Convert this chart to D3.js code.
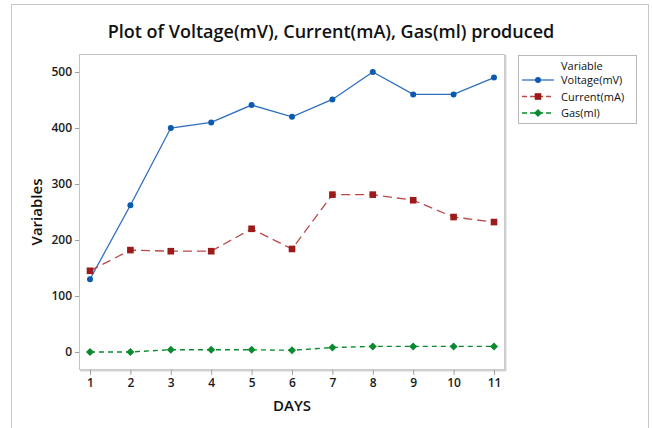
<!DOCTYPE html>
<html>
<head>
<meta charset="utf-8">
<script src="https://cdn.jsdelivr.net/npm/d3@7"></script>
<style>
  body { margin: 0; background: #fff; }
  text { font-family: "Open Sans", "Noto Sans", sans-serif; }
</style>
</head>
<body>
<svg id="chart" width="652" height="428"></svg>
<script>
// data
const days = [1, 2, 3, 4, 5, 6, 7, 8, 9, 10, 11];
const voltage = [130, 262, 400, 410, 441, 420, 451, 500, 460, 460, 490];
const current = [145, 182, 180, 180, 220, 184, 281, 281, 271, 241, 232];
const gas = [0, 0, 4, 4, 4, 3, 8, 10, 10, 10, 10];
const yTicks = [0, 100, 200, 300, 400, 500];
const seriesNames = ["Voltage(mV)", "Current(mA)", "Gas(ml)"];

const series = [
  { name: seriesNames[0], values: voltage, color: "#0b5aad", line: "#2f6fbf", dash: null, symbol: d3.symbolCircle, size: 28, rot: 0 },
  { name: seriesNames[1], values: current, color: "#9c1a1a", line: "#b94a4a", dash: "9,5", symbol: d3.symbolSquare, size: 44, rot: 0 },
  { name: seriesNames[2], values: gas, color: "#0a8a2e", line: "#0a8a2e", dash: "5,4", symbol: d3.symbolSquare, size: 32, rot: 45 }
];

const svg = d3.select("#chart");

// outer frame
svg.append("rect")
  .attr("x", 11.5).attr("y", 4.5)
  .attr("width", 637).attr("height", 440)
  .attr("fill", "none").attr("stroke", "#c8c8c8");

const box = { left: 79, top: 54, right: 504, bottom: 369 };

const x = d3.scaleLinear().domain([1, 11]).range([90, 494]);
const y = d3.scaleLinear().domain([0, 500]).range([352, 72]);

// plot area frame
svg.append("rect")
  .attr("x", box.left + 0.5).attr("y", box.top + 0.5)
  .attr("width", box.right - box.left).attr("height", box.bottom - box.top)
  .attr("fill", "#fff").attr("stroke", "#c4c4c4");
svg.append("path")
  .attr("d", `M${box.right + 1.5},${box.top + 1}V${box.bottom + 1.5}H${box.left + 1}`)
  .attr("fill", "none").attr("stroke", "#d2d2d2").attr("stroke-width", 2);

// axes
const xAxis = svg.append("g")
  .attr("transform", `translate(0,${box.bottom + 1})`)
  .call(d3.axisBottom(x).tickValues(days).tickSize(5).tickPadding(3).tickFormat(d3.format("d")));
const yAxis = svg.append("g")
  .attr("transform", `translate(${box.left},0)`)
  .call(d3.axisLeft(y).tickValues(yTicks).tickSize(4).tickPadding(3));
[xAxis, yAxis].forEach(g => {
  g.select(".domain").remove();
  g.selectAll(".tick line").attr("stroke", "#a0a0a0");
  g.selectAll(".tick text")
    .attr("fill", "#1a1a1a")
    .style("font-size", "12px")
    .style("font-weight", "600");
});

// lines and markers
const line = d3.line()
  .x((d, i) => x(days[i]))
  .y(d => y(d));

series.forEach(s => {
  svg.append("path")
    .datum(s.values)
    .attr("d", line)
    .attr("fill", "none")
    .attr("stroke", s.line)
    .attr("stroke-width", 1.3)
    .attr("stroke-dasharray", s.dash);
  svg.append("g").selectAll("path")
    .data(s.values)
    .enter()
    .append("path")
    .attr("transform", (d, i) => `translate(${x(days[i])},${y(d)}) rotate(${s.rot})`)
    .attr("d", d3.symbol().type(s.symbol).size(s.size))
    .attr("fill", s.color);
});

// title and axis labels
svg.append("text")
  .attr("x", 331).attr("y", 38)
  .attr("text-anchor", "middle")
  .style("font-size", "18px")
  .style("font-weight", "600")
  .attr("fill", "#111")
  .text("Plot of Voltage(mV), Current(mA), Gas(ml) produced");

svg.append("text")
  .attr("x", 292).attr("y", 411)
  .attr("text-anchor", "middle")
  .style("font-size", "15px")
  .style("font-weight", "600")
  .attr("fill", "#111")
  .text("DAYS");

svg.append("text")
  .attr("transform", "translate(42,212) rotate(-90)")
  .attr("text-anchor", "middle")
  .style("font-size", "15px")
  .style("font-weight", "600")
  .attr("fill", "#111")
  .text("Variables");

// legend
const legend = svg.append("g");
legend.append("rect")
  .attr("x", 518.5).attr("y", 55.5)
  .attr("width", 118).attr("height", 68)
  .attr("fill", "#fff").attr("stroke", "#b8b8b8");
legend.append("text")
  .attr("x", 561).attr("y", 70)
  .style("font-size", "11px")
  .attr("fill", "#111")
  .text("Variable");

series.forEach((s, i) => {
  const ly = 80 + i * 16.5;
  legend.append("line")
    .attr("x1", 522).attr("x2", 554)
    .attr("y1", ly).attr("y2", ly)
    .attr("stroke", s.line)
    .attr("stroke-width", 1.3)
    .attr("stroke-dasharray", s.dash ? "5,3" : null);
  legend.append("path")
    .attr("transform", `translate(538,${ly}) rotate(${s.rot})`)
    .attr("d", d3.symbol().type(s.symbol).size(s.size))
    .attr("fill", s.color);
  legend.append("text")
    .attr("x", 561).attr("y", ly + 4)
    .style("font-size", "11px")
    .attr("fill", "#111")
    .text(s.name);
});
</script>
</body>
</html>
